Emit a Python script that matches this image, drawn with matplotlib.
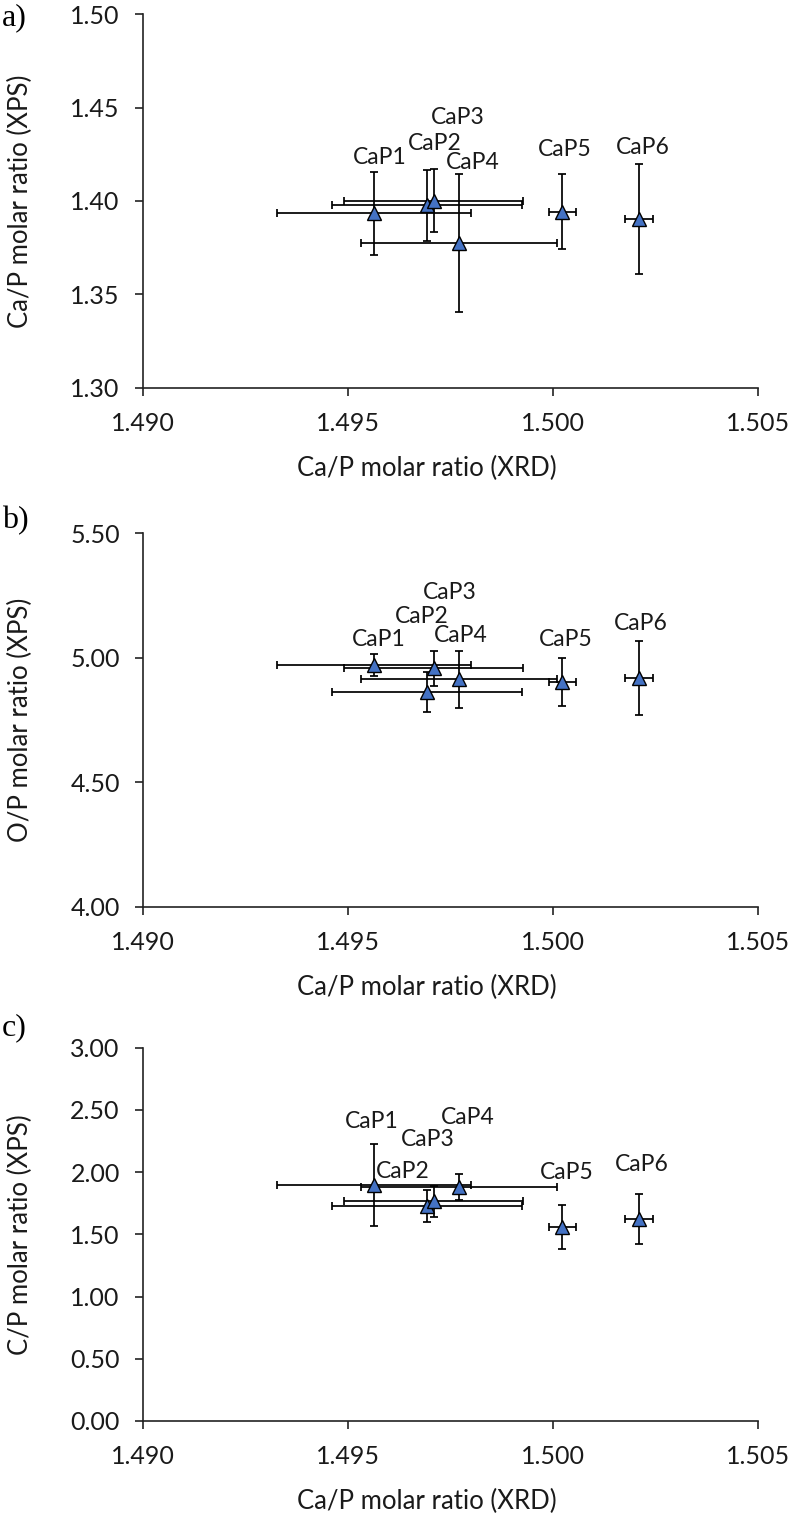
import matplotlib
matplotlib.use("Agg")
import matplotlib.pyplot as plt
from matplotlib.ticker import FixedLocator, FormatStrFormatter

plt.rcParams['font.family'] = ['Lato', 'DejaVu Sans']

# ---------------- data ----------------
samples = ['CaP1', 'CaP2', 'CaP3', 'CaP4', 'CaP5', 'CaP6']
ca_p_xrd = [1.49564, 1.49693, 1.49710, 1.49771, 1.50023, 1.50211]
ca_p_xrd_err = [0.00237, 0.00231, 0.00218, 0.00239, 0.00033, 0.00034]

ca_p_xps = [1.3934, 1.3978, 1.4001, 1.3773, 1.3942, 1.3903]
ca_p_xps_err = [0.0223, 0.0190, 0.0170, 0.0370, 0.0200, 0.0296]

o_p_xps = [4.972, 4.861, 4.957, 4.914, 4.902, 4.917]
o_p_xps_err = [0.044, 0.080, 0.072, 0.115, 0.097, 0.149]

c_p_xps = [1.900, 1.726, 1.766, 1.882, 1.559, 1.623]
c_p_xps_err = [0.329, 0.128, 0.125, 0.103, 0.180, 0.204]

x_ticks = [1.490, 1.495, 1.500, 1.505]
y_ticks_a = [1.30, 1.35, 1.40, 1.45, 1.50]
y_ticks_b = [4.00, 4.50, 5.00, 5.50]
y_ticks_c = [0.00, 0.50, 1.00, 1.50, 2.00, 2.50, 3.00]

x_label = 'Ca/P molar ratio (XRD)'
y_labels = ['Ca/P molar ratio (XPS)', 'O/P molar ratio (XPS)', 'C/P molar ratio (XPS)']
panel_letters = ['a)', 'b)', 'c)']

# label offsets (pixels, text centre relative to the point; +y is up)
label_offsets = [
    [(6, 56), (8, 62), (24, 83), (14, 81), (3, 62), (4, 72)],
    [(5, 25), (-5, 76), (16, 76), (2, 44), (4, 43), (2, 55)],
    [(-2, 63), (-24, 35), (-6, 62), (9, 69), (5, 55), (3, 55)],
]

# ---------------- figure ----------------
W, H = 792, 1518
fig = plt.figure(figsize=(W / 100, H / 100), dpi=100)

ax_left = 142.7 / W
ax_w = 615 / W
ax_h = 373.3 / H
tops = [14.3, 533.3, 1047.7]
letter_y_px = [18, 521, 1028]

series = [(ca_p_xps, ca_p_xps_err, y_ticks_a),
          (o_p_xps, o_p_xps_err, y_ticks_b),
          (c_p_xps, c_p_xps_err, y_ticks_c)]

blue = '#4472C4'
txt = '#1a1a1a'
for i, (yv, ye, yt) in enumerate(series):
    top = tops[i]
    ax = fig.add_axes([ax_left, (H - top - 373.3) / H, ax_w, ax_h])
    ax.errorbar(ca_p_xrd, yv, xerr=ca_p_xrd_err, yerr=ye, fmt='none',
                ecolor='black', elinewidth=1.25, capsize=3.2, capthick=1.25, zorder=2)
    ax.plot(ca_p_xrd, yv, linestyle='none', marker='^', markersize=10.5,
            markerfacecolor=blue, markeredgecolor='black', markeredgewidth=1.0, zorder=3)
    for s, x, y, off in zip(samples, ca_p_xrd, yv, label_offsets[i]):
        ax.annotate(s, (x, y), xytext=off, textcoords='offset pixels',
                    ha='center', va='center', fontsize=16.5, color=txt)
    ax.set_xlim(x_ticks[0], x_ticks[-1])
    ax.set_ylim(yt[0], yt[-1])
    ax.xaxis.set_major_locator(FixedLocator(x_ticks))
    ax.yaxis.set_major_locator(FixedLocator(yt))
    ax.xaxis.set_major_formatter(FormatStrFormatter('%.3f'))
    ax.yaxis.set_major_formatter(FormatStrFormatter('%.2f'))
    for sp in ['top', 'right']:
        ax.spines[sp].set_visible(False)
    for sp in ['left', 'bottom']:
        ax.spines[sp].set_linewidth(1.2)
        ax.spines[sp].set_color('#222222')
    ax.tick_params(axis='both', direction='out', length=5.5, width=1.2,
                   color='#222222', labelsize=18, labelcolor=txt)
    ax.tick_params(axis='x', pad=12)
    ax.tick_params(axis='y', pad=11)
    ax.set_xlabel(x_label, fontsize=18.5, color=txt)
    ax.set_ylabel(y_labels[i], fontsize=18.5, color=txt)
    ax.xaxis.set_label_coords(0.462, -0.183)
    ax.yaxis.set_label_coords(-0.178, 0.5)
    ax.patch.set_alpha(0)
    fig.text(0.002, 1 - letter_y_px[i] / H, panel_letters[i], fontsize=23,
             family=['Liberation Serif'], ha='left', va='center', color='black')

fig.savefig('out.png', dpi=100)
